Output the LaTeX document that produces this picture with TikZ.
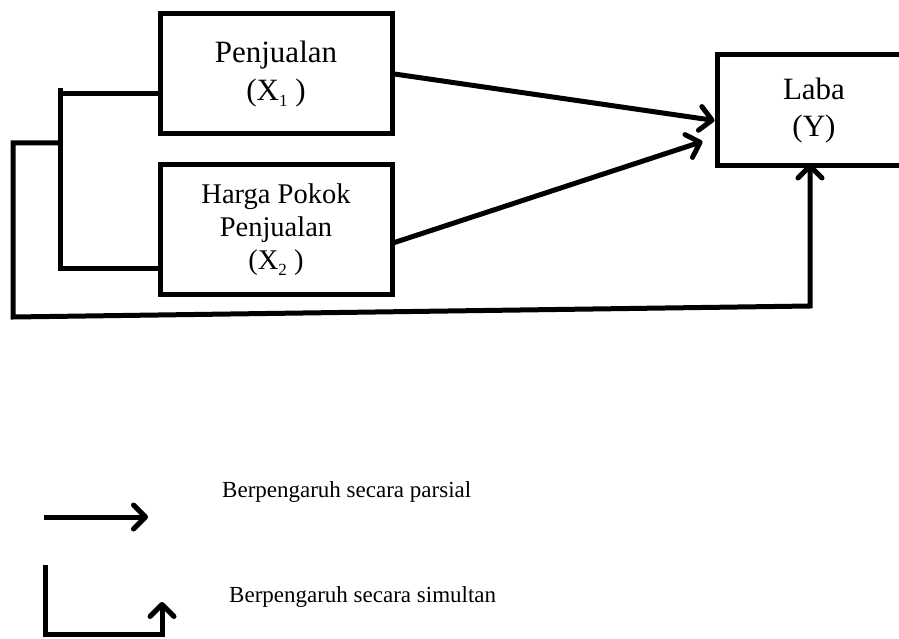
\documentclass[tikz,border=0pt]{standalone}
\usepackage{fontspec}
\setmainfont{Liberation Serif}
\usetikzlibrary{arrows.meta}
\newcommand{\mysub}[1]{\raisebox{-6pt}{\fontsize{17}{17}\selectfont #1}}
\begin{document}
\begin{tikzpicture}[x=1pt,y=-1pt,
  box/.style={draw,line width=5pt,align=center,inner sep=0pt},
  conn/.style={line width=5pt,line join=miter},
  arr/.style={conn,-{Straight Barb[length=12pt,width=24pt,round]}},
  legend/.style={anchor=west,font=\fontsize{23}{27}\selectfont,inner sep=0pt}]
\clip (0,0) rectangle (899,639);
\node[box,minimum width=232pt,minimum height=120pt,font=\fontsize{31}{38}\selectfont] (x1) at (276,74) {Penjualan\\(X\mysub{1}\ )};
\node[box,minimum width=232pt,minimum height=129pt,font=\fontsize{28.5}{33}\selectfont] (x2) at (276,229.5) {Harga Pokok\\Penjualan\\(X\mysub{2}\ )};
\node[box,minimum width=194pt,minimum height=111pt,font=\fontsize{31}{37}\selectfont] (y) at (814,110.5) {Laba\\(Y)};
% bracket
\coordinate (bt) at (60,88);
\coordinate (bb) at (60,268);
\coordinate (b1) at (60,94);
\coordinate (bm) at (60,143);
\coordinate (lc) at (13,143);
\coordinate (lb) at (13,317);
\coordinate (rb) at (810,306);
\draw[conn] (bt) -- (bb) -- (bb -| x2.west);
\draw[conn] (b1) -- (b1 -| x1.west);
\draw[arr,shorten >=-5pt] (bm) -- (lc) -- (lb) -- (rb) -- (rb |- y.south);
% partial arrows
\draw[arr] (x1.east) -- ([yshift=-10pt]y.west);
\draw[arr] ([yshift=-13pt]x2.east) -- ([xshift=-12pt,yshift=-31pt]y.west);
% legend
\coordinate (l1a) at (44,517);
\coordinate (l1b) at (148,517);
\draw[arr] (l1a) -- (l1b);
\node[legend] (t1) at (222,492) {Berpengaruh secara parsial};
\coordinate (l2a) at (45,565);
\coordinate (l2b) at (45,634);
\coordinate (l2c) at (162,634);
\coordinate (l2d) at (162,602);
\draw[arr] (l2a) -- (l2b) -- (l2c) -- (l2d);
\node[legend] (t2) at (229,597) {Berpengaruh secara simultan};
\end{tikzpicture}
\end{document}
